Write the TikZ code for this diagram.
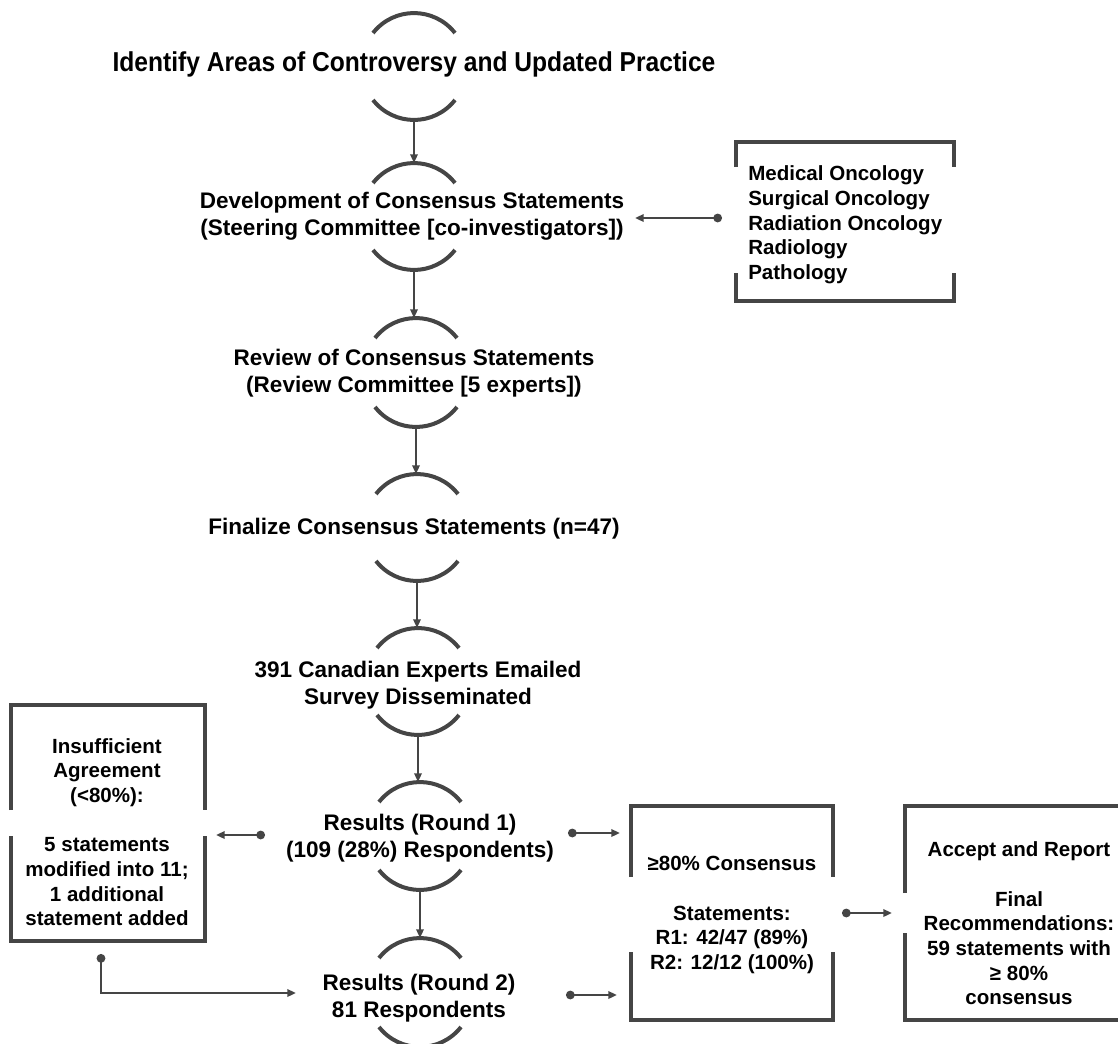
\documentclass[tikz,border=0pt]{standalone}
\usepackage{fontspec}
\setmainfont{Liberation Sans}
\newfontfamily\narrowfont[FakeStretch=0.9]{Liberation Sans}
\usetikzlibrary{arrows.meta}
\definecolor{lin}{gray}{0.27}
\tikzset{%
    arcl/.style={lin, line width=3pt},
    bx/.style={lin, line width=3pt},
    pra/.style={lin, line width=1.7pt, -{Triangle[length=6.5pt,width=5.5pt]}},
    dar/.style={lin, line width=1.7pt, {Circle[length=6.5pt]}-{Triangle[length=6.5pt,width=5.5pt]}},
    ttxt/.style={align=center, inner sep=0pt, font=\narrowfont\bfseries\fontsize{20.5}{24}\selectfont},
    mtxt/.style={align=center, inner sep=0pt, font=\bfseries\fontsize{16.9}{20.25}\selectfont},
    stxt/.style={align=center, inner sep=0pt, font=\bfseries\fontsize{15.4}{18.5}\selectfont},
}

\begin{document}
\begin{tikzpicture}[x=0.75pt,y=-0.75pt]
    \useasboundingbox (0,0) rectangle (1118,1043);
    % main column
    \node[ttxt] (idf) at (414,64) {Identify Areas of Controversy and Updated Practice};
    \node[mtxt] (dev) at (412,216.5) {Development of Consensus Statements\\(Steering Committee [co-investigators])};
    \node[mtxt] (rev) at (414,373.5) {Review of Consensus Statements\\(Review Committee [5 experts])};
    \node[mtxt] (fin) at (414,528.5) {Finalize Consensus Statements (n=47)};
    \node[mtxt] (svy) at (418,685) {391 Canadian Experts Emailed\\Survey Disseminated};
    \node[mtxt] (rs1) at (420,838.5) {Results (Round 1)\\(109 (28\%) Respondents)};
    \node[mtxt] (rs2) at (419,998.5) {Results (Round 2)\\81 Respondents};
    \foreach \n/\x/\t/\b in {idf/414/33/100, dev/414/183/250, rev/416/338/407, fin/417/494/561, svy/418/648/715, rs1/420/802/870, rs2/420/958/1027}{
        \draw[arcl] (\x-41,\t) .. controls (\x-20,\t-26.6) and (\x+20,\t-26.6) .. (\x+41,\t);
        \draw[arcl] (\x-41,\b) .. controls (\x-20,\b+26.6) and (\x+20,\b+26.6) .. (\x+41,\b);
        \coordinate (\n-t) at (\x,\t-20);
        \coordinate (\n-b) at (\x,\b+20);
    }
    \draw[pra] (idf-b) -- (idf-b |- dev-t);
    \draw[pra] (dev-b) -- (dev-b |- rev-t);
    \draw[pra] (rev-b) -- (rev-b |- fin-t);
    \draw[pra] (fin-b) -- (fin-b |- svy-t);
    \draw[pra] (svy-b) -- (svy-b |- rs1-t);
    \draw[pra] (rs1-b) -- (rs2-t);
    % side boxes
    \node[stxt, align=left, anchor=west] (med) at (748,225) {Medical Oncology\\Surgical Oncology\\Radiation Oncology\\Radiology\\Pathology};
    \draw[bx] (736,167) -- (736,142) -- (954,142) -- (954,167);
    \draw[bx] (736,273) -- (736,301) -- (954,301) -- (954,273);
    \node[stxt] (ins) at (107,832) {Insufficient\\Agreement\\(<80\%):\\[18.5pt]5 statements\\modified into 11;\\1 additional\\statement added};
    \draw[bx] (11,810) -- (11,705) -- (205,705) -- (205,810);
    \draw[bx] (11,836) -- (11,941) -- (205,941) -- (205,836);
    \node[stxt] (cons) at (732,915) {≥80\% Consensus\\[18.5pt]Statements:\\R1: 42/47 (89\%)\\R2: 12/12 (100\%)};
    \draw[bx] (631,877) -- (631,806) -- (833,806) -- (833,877);
    \draw[bx] (631,952) -- (631,1020) -- (833,1020) -- (833,952);
    \node[stxt] (acc) at (1019,923.5) {Accept and Report\\[18.5pt]Final\\Recommendations:\\59 statements with\\≥ 80\%\\consensus};
    \draw[bx] (905,893) -- (905,806) -- (1122,806);
    \draw[bx] (905,933) -- (905,1020) -- (1122,1020);
    % connectors
    \coordinate (med-o) at (722,218);
    \coordinate (dev-i) at (635,218);
    \coordinate (rs1-l) at (265,835);
    \coordinate (ins-i) at (216,835);
    \coordinate (rs1-r) at (568,833);
    \coordinate (cons-a) at (620,833);
    \coordinate (rs2-r) at (566,995);
    \coordinate (cons-b) at (617,995);
    \coordinate (cons-r) at (842,913);
    \coordinate (acc-i) at (892,913);
    \coordinate (ins-o) at (101,954);
    \coordinate (rs2-i) at (296,993);
    \draw[dar] (med-o) -- (dev-i);
    \draw[dar] (rs1-l) -- (ins-i);
    \draw[dar] (rs1-r) -- (cons-a);
    \draw[dar] (rs2-r) -- (cons-b);
    \draw[dar] (cons-r) -- (acc-i);
    \draw[dar] (ins-o) |- (rs2-i);
\end{tikzpicture}
\end{document}
